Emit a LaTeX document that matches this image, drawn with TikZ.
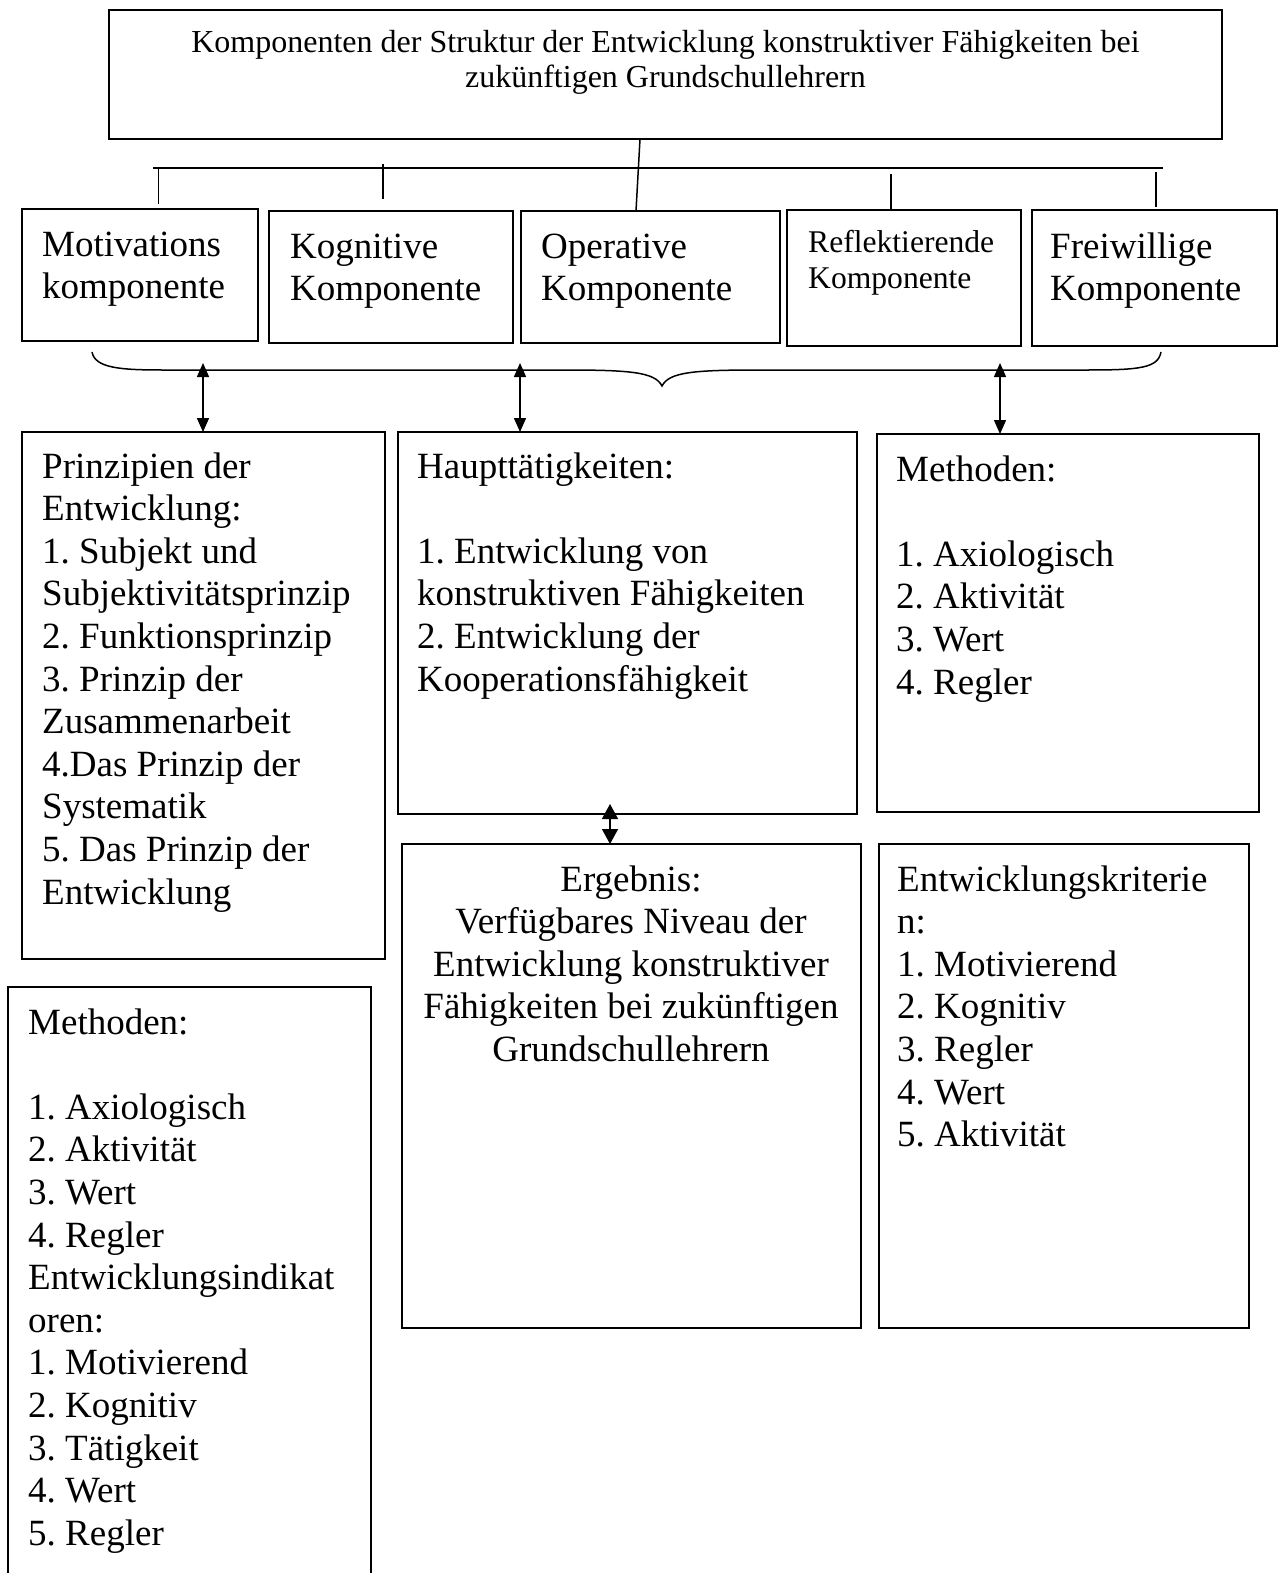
\documentclass[tikz,border=0pt]{standalone}
\usepackage{fontspec}
\setmainfont{Liberation Serif}
\frenchspacing
\usetikzlibrary{arrows.meta}
\tikzset{
  box/.style={draw, line width=1.8pt, inner sep=0pt, outer sep=0pt, anchor=north west},
  txt/.style={inner sep=0pt, anchor=base west, font=\fontsize{37}{42.6}\selectfont},
  txtc/.style={inner sep=0pt, anchor=base, font=\fontsize{37}{42.6}\selectfont},
  conn/.style={line width=1.5pt},
  hline/.style={line width=2.2pt},
  dbl/.style={line width=1.5pt, arrows={Triangle[length=14pt,width=12pt]-Triangle[length=14pt,width=12pt]}},
  dblbig/.style={line width=1.5pt, arrows={Triangle[length=15pt,width=16pt]-Triangle[length=15pt,width=16pt]}}
}
\begin{document}
\begin{tikzpicture}[x=1pt,y=-1pt]
\clip (0,0) rectangle (1281,1573);
\fill[white] (0,0) rectangle (1281,1573);
% title
\node[box, minimum width=1113pt, minimum height=129pt] (title) at (109,10) {};
\node[txtc, font=\fontsize{32}{35}\selectfont] (titletxt) at (665.5,53) {\begin{tabular}[t]{@{}c@{}}Komponenten der Struktur der Entwicklung konstruktiver Fähigkeiten bei\\zukünftigen Grundschullehrern\end{tabular}};
% components
\node[box, minimum width=236pt, minimum height=132pt] (mot) at (22,209) {};
\node[box, minimum width=244pt, minimum height=132pt] (kog) at (269,211) {};
\node[box, minimum width=259pt, minimum height=132pt] (ope) at (521,211) {};
\node[box, minimum width=234pt, minimum height=136pt] (ref) at (787,210) {};
\node[box, minimum width=245pt, minimum height=136pt] (fre) at (1032,210) {};
\node[txt] (mott) at (42,256) {\begin{tabular}[t]{@{}l@{}}Motivations\\komponente\end{tabular}};
\node[txt] (kogt) at (290,258) {\begin{tabular}[t]{@{}l@{}}Kognitive\\Komponente\end{tabular}};
\node[txt] (opet) at (541,258) {\begin{tabular}[t]{@{}l@{}}Operative\\Komponente\end{tabular}};
\node[txt, font=\fontsize{31.6}{36}\selectfont] (reft) at (808,252) {\begin{tabular}[t]{@{}l@{}}Reflektierende\\Komponente\end{tabular}};
\node[txt] (fret) at (1050,258) {\begin{tabular}[t]{@{}l@{}}Freiwillige\\Komponente\end{tabular}};
% second row
\node[box, minimum width=363pt, minimum height=527pt] (prin) at (22,432) {};
\node[box, minimum width=459pt, minimum height=382pt] (haupt) at (398,432) {};
\node[box, minimum width=382pt, minimum height=378pt] (methr) at (877,434) {};
\node[box, minimum width=459pt, minimum height=484pt] (erg) at (402,844) {};
\node[box, minimum width=370pt, minimum height=484pt] (krit) at (879,844) {};
\node[box, minimum width=363pt, minimum height=700pt] (methl) at (8,987) {};
\node[txt] (print) at (42,478) {\begin{tabular}[t]{@{}l@{}}Prinzipien der\\Entwicklung:\\1. Subjekt und\\Subjektivitätsprinzip\\2. Funktionsprinzip\\3. Prinzip der\\Zusammenarbeit\\4.Das Prinzip der\\Systematik\\5. Das Prinzip der\\Entwicklung\end{tabular}};
\node[txt] (hauptt) at (417,478) {\begin{tabular}[t]{@{}l@{}}Haupttätigkeiten:\\ \\1. Entwicklung von\\konstruktiven Fähigkeiten\\2. Entwicklung der\\Kooperationsfähigkeit\end{tabular}};
\node[txt] (methrt) at (896,481) {\begin{tabular}[t]{@{}l@{}}Methoden:\\ \\1. Axiologisch\\2. Aktivität\\3. Wert\\4. Regler\end{tabular}};
\node[txtc] (ergt) at (631,891) {\begin{tabular}[t]{@{}c@{}}Ergebnis:\\Verfügbares Niveau der\\Entwicklung konstruktiver\\Fähigkeiten bei zukünftigen\\Grundschullehrern\end{tabular}};
\node[txt] (kritt) at (897,891) {\begin{tabular}[t]{@{}l@{}}Entwicklungskriterie\\n:\\1. Motivierend\\2. Kognitiv\\3. Regler\\4. Wert\\5. Aktivität\end{tabular}};
\node[txt] (methlt) at (28,1034) {\begin{tabular}[t]{@{}l@{}}Methoden:\\ \\1. Axiologisch\\2. Aktivität\\3. Wert\\4. Regler\\Entwicklungsindikat\\oren:\\1. Motivierend\\2. Kognitiv\\3. Tätigkeit\\4. Wert\\5. Regler\end{tabular}};
% tree connectors
\coordinate (hl) at (153,168);
\coordinate (hr) at (1163,168);
\draw[hline] (hl) -- (hr);
\draw[conn] ([xshift=-25.5pt]title.south) -- ([xshift=-14.5pt]ope.north);
\coordinate (t1a) at (158.5,169); \coordinate (t1b) at (158.5,204);
\coordinate (t2a) at (383,164);   \coordinate (t2b) at (383,199);
\coordinate (t3a) at (891,174);   \coordinate (t3b) at (891,209);
\coordinate (t4a) at (1156,172);  \coordinate (t4b) at (1156,207);
\draw[conn] (t1a) -- (t1b);
\draw[conn] (t2a) -- (t2b);
\draw[conn] (t3a) -- (t3b);
\draw[conn] (t4a) -- (t4b);
% brace
\draw[conn] (92,352) .. controls (95,368) and (120,370) .. (163,370) -- (564,370)
  .. controls (630,370) and (655,372) .. (662,386)
  .. controls (669,372) and (694,370) .. (760,370) -- (1087,370)
  .. controls (1140,370) and (1158,368) .. (1161,352);
% arrows
\coordinate (a1) at (203,363);
\coordinate (a2) at (520,363);
\coordinate (a3) at (1000,363);
\draw[dbl] (a1) -- (a1 |- prin.north);
\draw[dbl] (a2) -- (a2 |- haupt.north);
\draw[dbl] (a3) -- (a3 |- methr.north);
\coordinate (a4) at (610,804);
\draw[dblbig] (a4) -- (a4 |- erg.north);
\end{tikzpicture}
\end{document}
